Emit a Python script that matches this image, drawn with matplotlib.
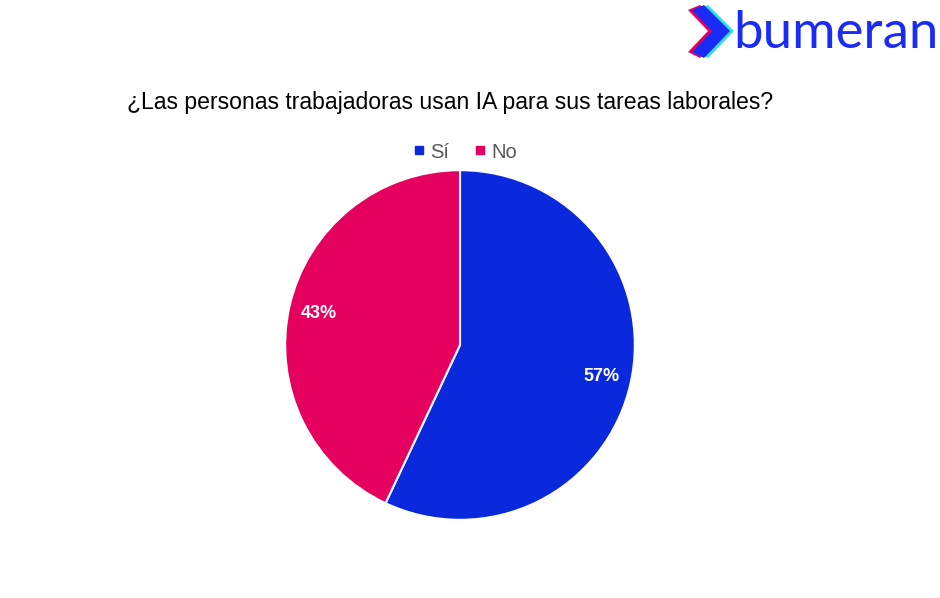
import matplotlib.pyplot as plt
from matplotlib.lines import Line2D

plt.rcParams['font.family'] = ['Liberation Sans', 'DejaVu Sans']

# datos
labels = ['Sí', 'No']
values = [57, 43]
colors = ['#0A28DC', '#E5005F']
title = '¿Las personas trabajadoras usan IA para sus tareas laborales?'

fig = plt.figure(figsize=(9.4, 5.98), dpi=100)
fig.patch.set_facecolor('white')

# pie
ax = fig.add_axes([460 / 940 - 0.186, 1 - 345 / 598 - 0.2926, 0.372, 0.5852])
wedges, texts, autotexts = ax.pie(
    values, colors=colors, startangle=90, counterclock=False, radius=1.25,
    autopct='%1.0f%%', pctdistance=0.83,
    wedgeprops=dict(edgecolor='white', linewidth=1.5),
    textprops=dict(color='white', fontsize=13, fontweight='bold'))
ax.set_xlim(-1.25, 1.25)
ax.set_ylim(-1.25, 1.25)
ax.set_aspect('equal')

# título
fig.text(450 / 940, 1 - 102 / 598, title, ha='center', va='center',
         fontsize=16.6, color='#000000')

# leyenda
handles = [Line2D([], [], marker='s', linestyle='', markersize=6,
                  markerfacecolor=c, markeredgecolor=c) for c in colors]
fig.legend(handles, labels, loc='center', bbox_to_anchor=(463 / 940, 1 - 152 / 598),
           ncol=2, frameon=False, fontsize=14.5, labelcolor='#595959',
           handletextpad=0.1, columnspacing=1.0, handlelength=1.0)

# logo: chevrons + texto
def chevron(dx, color):
    pts = [(688, 10), (700, 5), (726, 31), (700, 58), (688, 52), (708, 31)]
    xy = [((x + dx) / 940, 1 - y / 598) for x, y in pts]
    fig.add_artist(plt.Polygon(xy, closed=True, facecolor=color,
                               edgecolor='none', transform=fig.transFigure))

chevron(0, '#E5005F')
chevron(8, '#2FE0D8')
chevron(4, '#1A2BF5')
fig.text(836 / 940, 1 - 33 / 598, 'bumeran', ha='center', va='center',
         fontsize=38, color='#1A2BF5', family=['Lato', 'DejaVu Sans'])

fig.savefig('out.png', dpi=100, facecolor='white')
